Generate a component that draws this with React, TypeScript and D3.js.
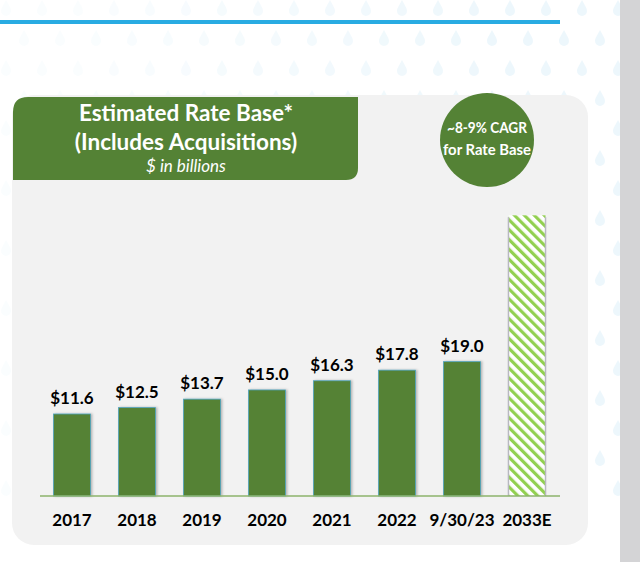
import React from "react";
import * as d3 from "d3";

const categories = ["2017", "2018", "2019", "2020", "2021", "2022", "9/30/23", "2033E"];
const values = [11.6, 12.5, 13.7, 15.0, 16.3, 17.8, 19.0, 39.7];
const estimated = [false, false, false, false, false, false, false, true];
const titleLines = ["Estimated Rate Base*", "(Includes Acquisitions)"];
const subtitle = "$ in billions";
const badgeLines = ["~8-9% CAGR", "for Rate Base"];

const W = 640;
const H = 562;
const FONT = "Lato, 'Open Sans', sans-serif";

export default function App() {
  const x = d3
    .scaleBand<string>()
    .domain(categories)
    .range([39.5, 559.5])
    .paddingInner(0.43)
    .paddingOuter(0.215);
  const y = d3.scaleLinear().domain([0, 40]).range([496, 213.2]);
  const fmt = d3.format("$.1f");

  // decorative raindrops
  const drops: { cx: number; cy: number; o: number }[] = [];
  for (let r = 0; r < 17; r++) {
    for (let c = 0; c < 19; c++) {
      const cx = c * 36 + (r % 2 ? 18 : 0) + 6;
      const cy = r * 30 + 8;
      const o = Math.max(0, Math.min(1, (cx - 60) / 450));
      drops.push({ cx, cy, o });
    }
  }
  const dropPath = (cx: number, cy: number) =>
    `M${cx},${cy - 8} C${cx + 2},${cy - 4} ${cx + 5},${cy} ${cx + 5},${cy + 3} A5,5 0 1,1 ${cx - 5},${cy + 3} C${cx - 5},${cy} ${cx - 2},${cy - 4} ${cx},${cy - 8} Z`;

  return (
    <svg width={W} height={H} style={{ position: "absolute", left: 0, top: 0, display: "block" }}>
      <defs>
        <pattern id="hatch" patternUnits="userSpaceOnUse" width="7" height="7" patternTransform="rotate(-45)">
          <rect width="7" height="7" fill="#ffffff" />
          <rect width="3.2" height="7" fill="#92d050" />
        </pattern>
        <filter id="shadow" x="-20%" y="-5%" width="150%" height="115%">
          <feDropShadow dx="1.5" dy="0" stdDeviation="1" floodColor="#000" floodOpacity="0.25" />
        </filter>
      </defs>
      <rect x={0} y={0} width={W} height={H} fill="#ffffff" />
      <g>
        {drops.map((d, i) => (
          <path key={i} d={dropPath(d.cx, d.cy)} fill="#e8f5fb" opacity={0.2 + 0.6 * d.o} />
        ))}
      </g>
      <rect x={620} y={0} width={20} height={H} fill="#d4d4d6" />
      <rect x={0} y={20} width={560} height={4} fill="#29abe2" />

      <rect x={12} y={95} width={576} height={450} rx={22} ry={22} fill="#f2f2f2" />

      {/* title box */}
      <path
        d="M13,112 Q13,97 28,97 L358,97 L358,168 Q358,180 346,180 L13,180 Z"
        fill="#548235"
      />
      {titleLines.map((t, i) => (
        <text
          key={t}
          x={186}
          y={121 + i * 29}
          textAnchor="middle"
          fill="#ffffff"
          fontFamily={FONT}
          fontWeight={700}
          fontSize={22.5}
        >
          {t}
        </text>
      ))}
      <text x={186} y={172} textAnchor="middle" fill="#ffffff" fontFamily={FONT} fontStyle="italic" fontSize={17}>
        {subtitle}
      </text>

      {/* badge */}
      <circle cx={487} cy={140} r={47} fill="#548235" />
      {badgeLines.map((t, i) => (
        <text
          key={t}
          x={487}
          y={133 + i * 22}
          textAnchor="middle"
          fill="#ffffff"
          fontFamily={FONT}
          fontWeight={700}
          fontSize={16}
          textLength={i === 0 ? 80 : 88}
          lengthAdjust="spacingAndGlyphs"
        >
          {t}
        </text>
      ))}

      {/* bars */}
      {categories.map((c, i) => {
        const bx = x(c)!;
        const bw = x.bandwidth();
        const top = y(values[i]);
        return estimated[i] ? (
          <g key={c}>
            <rect x={bx} y={top} width={bw} height={y(0) - top} fill="url(#hatch)" />
            <line x1={bx} x2={bx} y1={top + 2} y2={y(0)} stroke="#b8b8c0" strokeWidth={1.5} />
            <line x1={bx + bw} x2={bx + bw} y1={top + 2} y2={y(0)} stroke="#b8b8c0" strokeWidth={1.5} />
          </g>
        ) : (
          <g key={c}>
            <rect
              x={bx}
              y={top}
              width={bw}
              height={y(0) - top}
              fill="#548235"
              stroke="#4fa3bf"
              strokeWidth={0.8}
              filter="url(#shadow)"
            />
            <text
              x={bx + bw / 2}
              y={top - 10}
              textAnchor="middle"
              fill="#000"
              fontFamily={FONT}
              fontWeight={700}
              fontSize={17}
            >
              {fmt(values[i])}
            </text>
          </g>
        );
      })}

      <line x1={40} x2={560} y1={y(0)} y2={y(0)} stroke="#8db36b" strokeWidth={1.5} />

      {categories.map((c) => (
        <text
          key={c}
          x={x(c)! + x.bandwidth() / 2}
          y={526}
          textAnchor="middle"
          fill="#000"
          fontFamily={FONT}
          fontWeight={700}
          fontSize={17}
        >
          {c}
        </text>
      ))}
    </svg>
  );
}
